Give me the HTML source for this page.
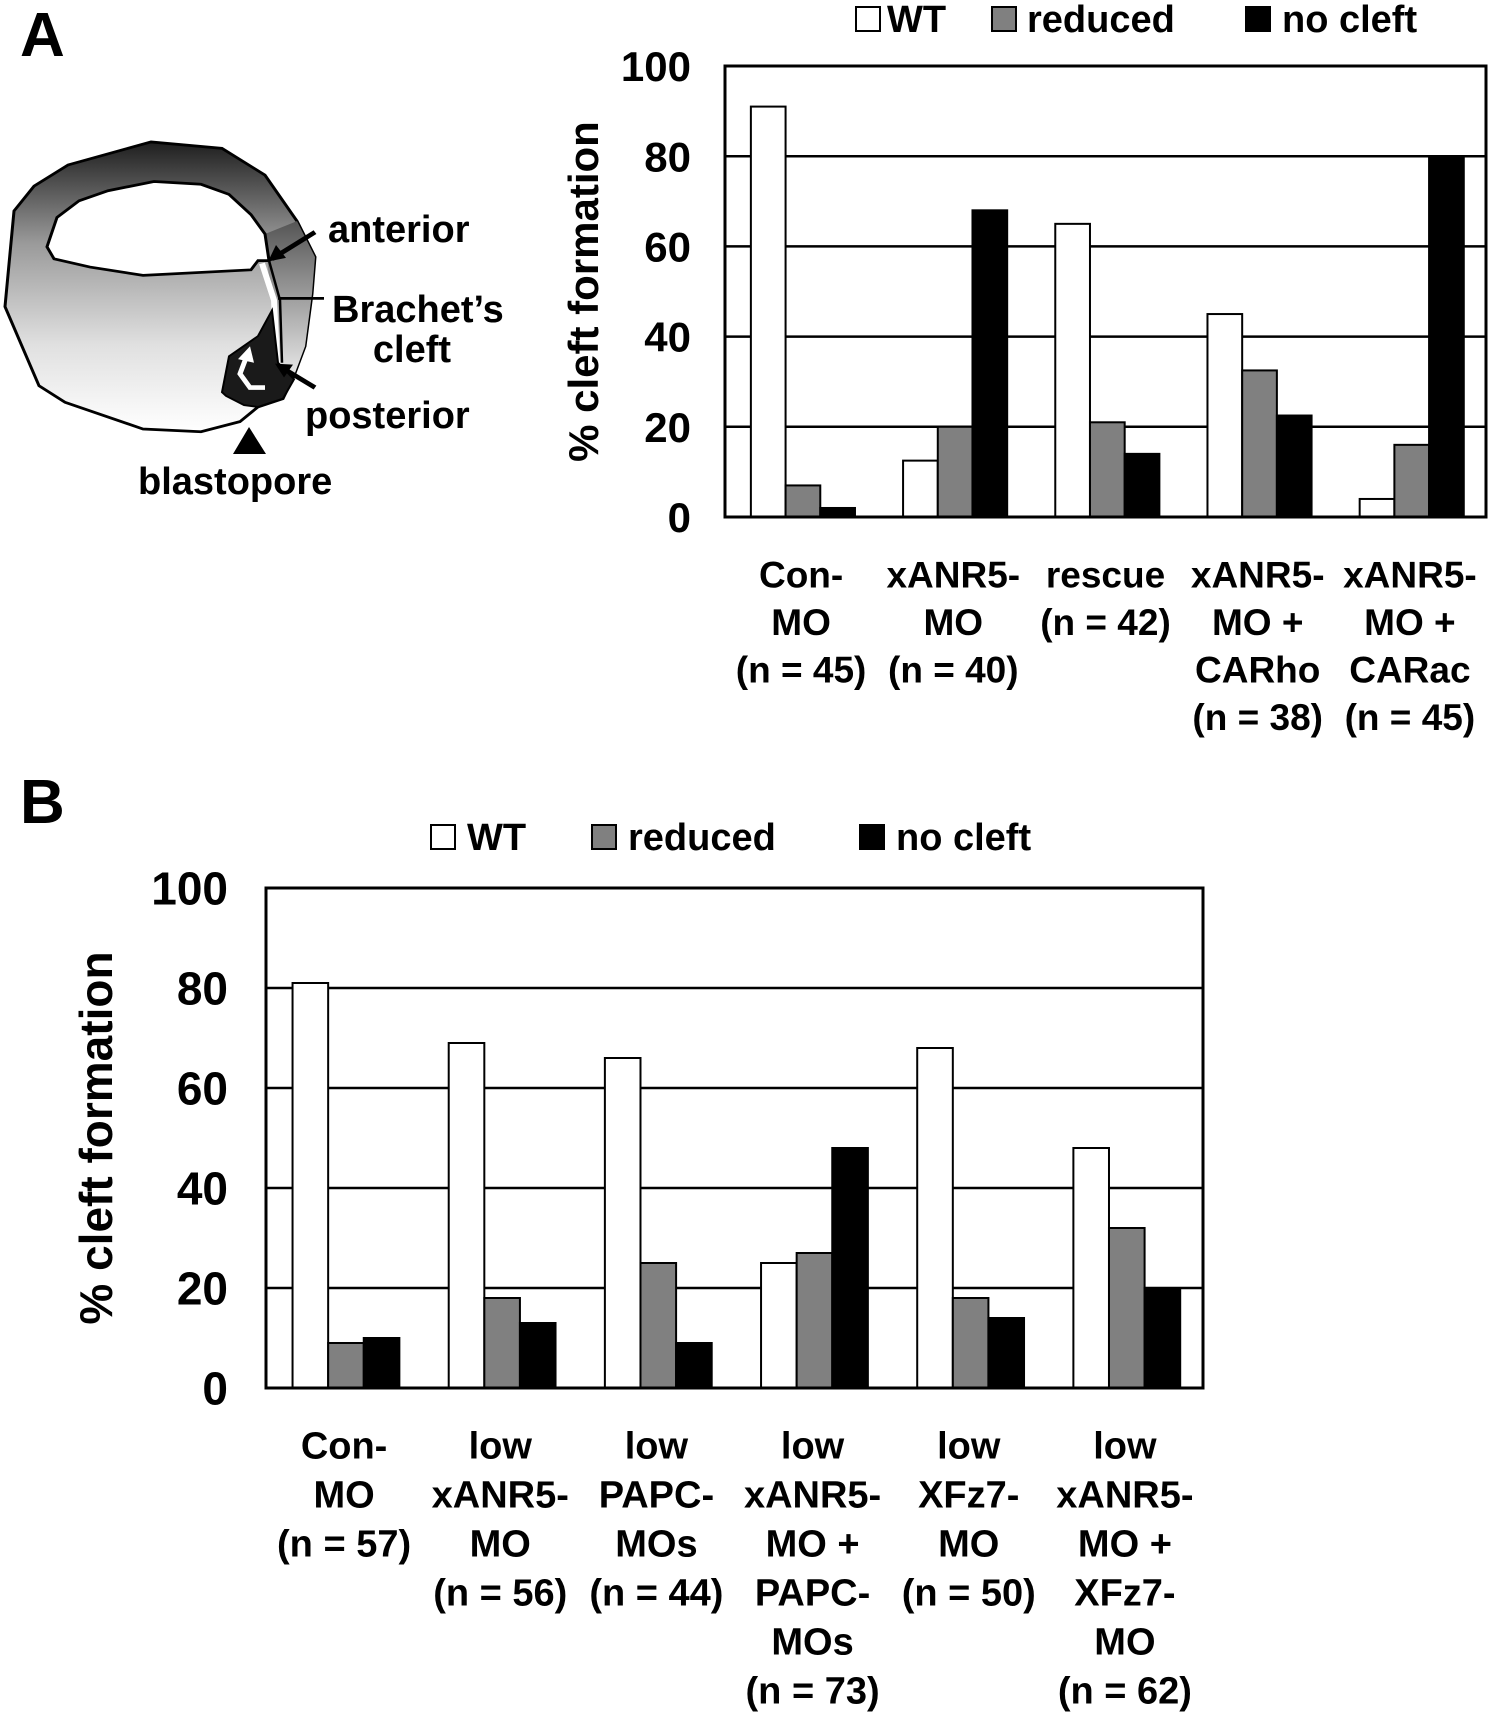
<!DOCTYPE html>
<html><head><meta charset="utf-8"><style>
html,body{margin:0;padding:0;background:#fff;}
svg{display:block;font-family:"Liberation Sans",Arial,sans-serif;font-weight:bold;}
</style></head><body>
<svg id="fig" width="1494" height="1714" viewBox="0 0 1494 1714" xmlns="http://www.w3.org/2000/svg">
<defs>
<linearGradient id="embryoGrad" x1="0" y1="0" x2="0" y2="1">
<stop offset="0" stop-color="#1e1e1e"/><stop offset="0.35" stop-color="#9a9a9a"/><stop offset="0.7" stop-color="#e0e0e0"/><stop offset="1" stop-color="#ffffff"/>
</linearGradient>
<linearGradient id="bandGrad" x1="0" y1="0" x2="0" y2="1">
<stop offset="0" stop-color="#555"/><stop offset="1" stop-color="#e8e8e8"/>
</linearGradient>
</defs>
<text x="20" y="56" font-size="62">A</text>
<text x="20" y="823" font-size="62">B</text>
<g>
<g transform="translate(0,-3.4) scale(1,0.92)">
<path d="M5,337 L14,233 L34,206 L68,183 L151,158 L222,165 L265,194 L297,244 L315,283 L312,323 L305,380 L294,412 L283,437 L258,446 L240,462 L201,473 L143,470 L65,441 L39,423 L22,380 Z" fill="url(#embryoGrad)" stroke="#000" stroke-width="3"/>
<path d="M265,258 L297,244 L315,283 L312,323 L305,380 L294,412 L278,398 L272,341 Z" fill="url(#bandGrad)" stroke="none"/>
<path d="M47,272 L57,240 L79,222 L108,211 L154,201 L201,204 L229,215 L251,237 L265,258 L269,287 L258,287 L251,297 L143,303 L90,294 L54,285 Z" fill="#fff" stroke="#000" stroke-width="3"/>
<path d="M262,290 L274,330 L277,398" fill="none" stroke="#fff" stroke-width="6"/>
<path d="M269,287 L280,330 L282,398" fill="none" stroke="#000" stroke-width="2.5"/>
<path d="M222,430 L229,391 L258,369 L272,341 L278,398 L294,416 L283,437 L258,446 L244,444 L226,434 Z" fill="#1a1a1a" stroke="#000" stroke-width="2"/>
<path d="M265,425 L250,425 L240,410 L247,390" fill="none" stroke="#fff" stroke-width="5"/>
<polygon points="238,394 250,380 254,398" fill="#fff"/>
<line x1="315" y1="256" x2="272" y2="285" stroke="#000" stroke-width="5"/>
<polygon points="268,288 276,270 286,284" fill="#000"/>
<line x1="278" y1="328" x2="324" y2="328" stroke="#000" stroke-width="3"/>
<line x1="315" y1="425" x2="280" y2="402" stroke="#000" stroke-width="5"/>
<polygon points="275,399 293,400 284,414" fill="#000"/>
</g>
<polygon points="233,454 266,454 249,427" fill="#000"/>
<text x="328" y="242" font-size="38">anterior</text>
<text x="332" y="322" font-size="38">Brachet’s</text>
<text x="412" y="362" font-size="38" text-anchor="middle">cleft</text>
<text x="305" y="428" font-size="38">posterior</text>
<text x="138" y="494" font-size="38">blastopore</text>
</g>
<g id="chartA"></g>
<g id="chartB"></g>
</svg>
<script>
const seriesNames = ["WT","reduced","no cleft"];
const seriesFill = ["#ffffff","#808080","#000000"];
const yTicks = [0,20,40,60,80,100];
const catsA = [["Con-","MO","(n = 45)"],["xANR5-","MO","(n = 40)"],["rescue","(n = 42)"],["xANR5-","MO +","CARho","(n = 38)"],["xANR5-","MO +","CARac","(n = 45)"]];
const wtA = [91,12.5,65,45,4];
const redA = [7,20,21,32.5,16];
const ncA = [2,68,14,22.5,80];
const catsB = [["Con-","MO","(n = 57)"],["low","xANR5-","MO","(n = 56)"],["low","PAPC-","MOs","(n = 44)"],["low","xANR5-","MO +","PAPC-","MOs","(n = 73)"],["low","XFz7-","MO","(n = 50)"],["low","xANR5-","MO +","XFz7-","MO","(n = 62)"]];
const wtB = [81,69,66,25,68,48];
const redB = [9,18,25,27,18,32];
const ncB = [10,13,9,48,14,20];

const NS="http://www.w3.org/2000/svg";
function mk(parent,tag,attrs,txt){const e=document.createElementNS(NS,tag);for(const k in attrs)e.setAttribute(k,attrs[k]);if(txt!==undefined)e.textContent=txt;parent.appendChild(e);return e;}

function drawChart(gid,cfg,cats,series){
  const g=document.getElementById(gid);
  const {L,R,T,B,tickFs,titleFs,catFs,lineH,catY0,tickX,titleX,legY,legBox,legText}=cfg;
  const y=v=>B-(v/100)*(B-T);
  const n=cats.length, gw=(R-L)/n, bw=gw*0.228, off=gw*0.17;
  const x=(i,j)=>L+i*gw+off+j*bw;
  yTicks.forEach(t=>{
    if(t>0&&t<100){const l=mk(g,'line',{x1:L,x2:R,y1:y(t),y2:y(t),stroke:'#000','stroke-width':2.5});
    
    }
    const tx=mk(g,'text',{x:tickX,y:y(t)+tickFs*0.36,'font-size':tickFs,'text-anchor':'end'},String(t));
    
    
  });
  series.forEach((vals,j)=>{
    vals.forEach((v,i)=>{
      const r=mk(g,'rect',{x:x(i,j),y:y(v),width:bw,height:B-y(v),fill:seriesFill[j],stroke:'#000','stroke-width':2});
      
      
    });
  });
  const fr=mk(g,'rect',{x:L,y:T,width:R-L,height:B-T,fill:'none',stroke:'#000','stroke-width':3});
  
  
  const ty=(T+B)/2;
  const tt=mk(g,'text',{x:titleX,y:ty,'font-size':titleFs,'text-anchor':'middle',transform:`rotate(-90 ${titleX} ${ty})`},'% cleft formation');
  
  
  cats.forEach((lines,i)=>{
    const cx=L+(i+0.5)*gw;
    lines.forEach((s,k)=>{
      const t=mk(g,'text',{x:cx,y:catY0+k*lineH+catFs*0.36,'font-size':catFs,'text-anchor':'middle'},s);
      
      
    });
  });
  seriesNames.forEach((nm,j)=>{
    const bx=mk(g,'rect',{x:legBox[j],y:legY-12,width:24,height:24,fill:seriesFill[j],stroke:'#000','stroke-width':2});
    
    
    const t=mk(g,'text',{x:legText[j],y:legY+13,'font-size':38},nm);
    
    
  });
}
drawChart('chartA',{L:725,R:1486,T:66,B:517,tickFs:42,titleFs:42,catFs:37,lineH:47.6,catY0:574,tickX:691,titleX:598,legY:19,legBox:[856,992,1246],legText:[887,1027,1282]},catsA,[wtA,redA,ncA]);
drawChart('chartB',{L:266,R:1203,T:888,B:1388,tickFs:46,titleFs:46,catFs:38,lineH:49,catY0:1445,tickX:228,titleX:112,legY:837,legBox:[431,592,860],legText:[467,628,896]},catsB,[wtB,redB,ncB]);
</script>
</body></html>
